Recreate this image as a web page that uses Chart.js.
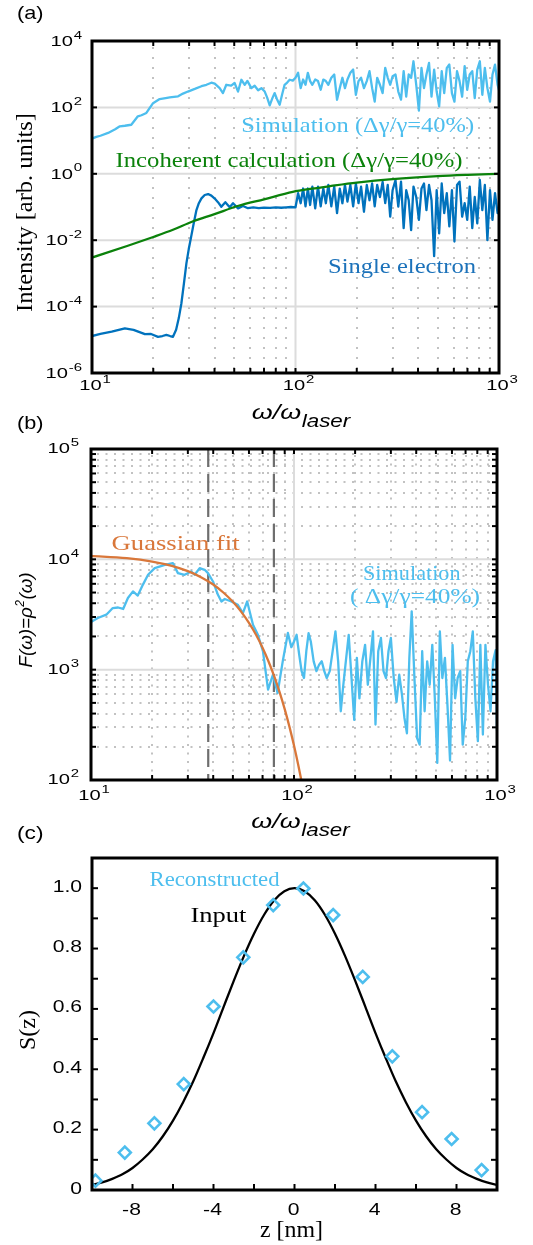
<!DOCTYPE html>
<html>
<head>
<meta charset="utf-8">
<script src="https://cdn.jsdelivr.net/npm/chart.js@4.4.1/dist/chart.umd.min.js"></script>
<style>
    body { margin: 0; background: #fff; }
    #figure { position: relative; width: 533px; height: 1245px; overflow: hidden; }
    #figure canvas { position: absolute; left: 0; }
</style>
</head>
<body>
<div id="figure">
    <canvas id="chartA" width="533" height="440" style="top:0px"></canvas>
    <canvas id="chartB" width="533" height="445" style="top:400px"></canvas>
    <canvas id="chartC" width="533" height="430" style="top:815px"></canvas>
</div>
<script>
// ---- panel (a): intensity spectra ----
const omegaSimLowA = [10, 10.5, 11, 12, 13, 13.7, 14.5, 15.6, 16.8, 17.5, 18.5, 19.95, 21.5, 23, 24.1, 26.5,
    28, 29.6, 32, 34.5, 36.5, 38.6, 40.1, 42.4, 44, 45.7, 48.3, 50.2, 52.2, 54.2, 56.3, 58, 60.7, 63, 65.5,
    68, 70.6, 72.5, 74.7, 77, 79, 81, 83.6, 86, 88.4, 91, 93.6, 97];
const intensitySimLowA = [11.5, 13, 14, 17, 22, 27, 28, 30, 54, 58, 68, 134, 178, 190, 200, 215,
    260, 300, 360, 435, 480, 555, 520, 380, 270, 480, 450, 543, 300, 680, 480, 630, 380, 450, 330,
    380, 300, 200, 115, 190, 270, 180, 120, 250, 480, 560, 680, 640];

// shared sampling of the noisy 100-1000 part
const omegaHigh = [100, 103, 106, 109, 112, 115, 118, 121, 125, 129,
    133, 137, 141, 145, 150, 155, 160, 165, 170, 175,
    180, 186, 192, 198, 204, 210, 217, 224, 231, 238,
    245, 252, 260, 268, 276, 284, 292, 300, 310, 320,
    330, 340, 350, 360, 370, 380, 392, 404, 416, 428,
    440, 453, 466, 480, 494, 508, 523, 538, 554, 570,
    587, 604, 622, 640, 659, 678, 698, 718, 739, 760,
    782, 805, 828, 852, 877, 903, 929, 956, 984, 1000];
const intensitySimHighA = [780, 1100, 380, 690, 480, 1100, 620, 480, 690, 620,
    340, 690, 620, 480, 780, 980, 170, 380, 780, 380,
    690, 1100, 1380, 240, 620, 780, 380, 620, 1230, 380,
    150, 780, 480, 270, 1550, 780, 480, 870, 980, 300,
    170, 1230, 210, 980, 780, 2450, 480, 80, 1550, 380,
    980, 2190, 210, 1380, 300, 107, 1230, 270, 1550, 1950,
    270, 150, 1230, 620, 210, 1740, 340, 980, 1230, 190,
    1380, 2450, 240, 1550, 380, 150, 980, 1950, 480, 330];

const omegaSingleLow = [10, 11, 12.5, 14.5, 16, 18.2, 19.5, 21.1, 22.2, 23.2, 24.2, 25, 25.9, 26.7, 27.5,
    28.3, 29.1, 29.9, 30.7, 31.6, 32.6, 33.5, 34.5, 35.8, 37.2, 38.6, 40.1, 41.6, 43.2, 45.2, 47.5, 49.3,
    52.2, 55.2, 58.4, 62, 66, 70, 75, 80, 85, 90, 95];
const intensitySingleLow = [1.3e-5, 1.5e-5, 1.75e-5, 2.2e-5, 2.0e-5, 1.48e-5, 1.5e-5, 1.23e-5, 1.3e-5, 1.41e-5,
    1.3e-5, 1.23e-5, 2.0e-5, 4.5e-5, 1.26e-4, 5e-4, 2.0e-3, 5.5e-3, 1.26e-2, 3.2e-2, 0.081, 0.13, 0.182,
    0.23, 0.245, 0.22, 0.18, 0.14, 0.102, 0.14, 0.098, 0.13, 0.091, 0.107, 0.092, 0.097, 0.093, 0.096,
    0.094, 0.097, 0.095, 0.098, 0.1];
const intensitySingleHigh = [0.098, 0.26, 0.13, 0.36, 0.105, 0.36, 0.115, 0.41, 0.091, 0.41,
    0.105, 0.36, 0.13, 0.46, 0.105, 0.41, 0.065, 0.36, 0.13, 0.46,
    0.145, 0.46, 0.105, 0.51, 0.13, 0.41, 0.072, 0.46, 0.16, 0.51,
    0.105, 0.46, 0.20, 0.57, 0.13, 0.46, 0.051, 0.32, 0.65, 0.102,
    0.58, 0.023, 0.32, 0.16, 0.020, 0.41, 0.20, 0.041, 0.36, 0.51,
    0.081, 0.46, 0.16, 0.0033, 0.32, 0.016, 0.51, 0.065, 0.26, 0.026,
    0.32, 0.0091, 0.46, 0.58, 0.051, 0.13, 0.041, 0.41, 0.023, 0.20,
    0.032, 0.65, 0.081, 0.46, 0.010, 0.32, 0.041, 0.26, 0.065, 0.065];

const omegaIncoherent = [10, 15, 20, 25, 31, 40, 52, 70, 97, 120, 150, 200, 300, 500, 700, 1000];
const intensityIncoherent = [0.0030, 0.0068, 0.0125, 0.0206, 0.036, 0.061, 0.107, 0.171, 0.285, 0.355,
    0.43, 0.54, 0.69, 0.85, 0.93, 1.0];

// ---- panel (b): form factor ----
const omegaSimLowB = [10, 10.8, 11.9, 12.8, 13.6, 14.4, 15.2, 16.1, 17, 18,
    19.1, 20.6, 23.1, 25.3, 26.8, 28.9, 31.2, 32.4, 34.3, 36.3,
    37.7, 39.9, 42.2, 43.9, 45.6, 49.1, 52.9, 56, 58.8, 62.8,
    66.4, 70.3, 74.5, 78.8, 83, 88, 93.3, 97];
const formSimLowB = [2700, 2940, 3150, 3620, 3660, 3550, 4460, 5120, 4700, 5870,
    7240, 8320, 8910, 9250, 7500, 7240, 7760, 7240, 8320, 8040,
    7500, 6300, 4770, 4150, 4370, 4150, 3870, 3260, 4150, 2550,
    2070, 1470, 660, 900, 615, 1190, 2150, 1600];
const formSimHighB = [1800, 2070, 1380, 970, 840, 1470, 2140, 1800, 1190, 970,
    1110, 1190, 970, 840, 970, 1470, 2220, 1190, 420, 730,
    1190, 2070, 840, 350, 1280, 550, 1190, 1680, 730, 1280,
    2220, 318, 1470, 1940, 970, 840, 1470, 1940, 840, 510,
    900, 600, 365, 265, 1280, 3380, 840, 240, 209, 1470,
    420, 1190, 730, 1680, 550, 143, 2220, 840, 1280, 480,
    150, 1680, 550, 840, 970, 209, 365, 1190, 1470, 2220,
    550, 225, 1680, 258, 1680, 730, 420, 1190, 1500, 280];

const omegaFit = [10, 15, 20, 25, 30, 35, 40, 45, 50, 55, 60, 65, 70, 75, 80, 85, 90, 95, 100, 105, 110];
const formFit = [10760, 10240, 9540, 8720, 7810, 6860, 5910, 4980, 4120, 3340, 2650, 2070, 1580, 1180,
    866, 623, 439, 303, 205, 136, 89];
const omegaCutoffs = [37.8, 79.6];

// ---- panel (c): bunch profile ----
const zInput = [-10, -9.5, -9, -8.5, -8, -7.5, -7, -6.5, -6, -5.5, -5, -4.5, -4, -3.5, -3, -2.5, -2, -1.5,
    -1, -0.5, 0, 0.5, 1, 1.5, 2, 2.5, 3, 3.5, 4, 4.5, 5, 5.5, 6, 6.5, 7, 7.5, 8, 8.5, 9, 9.5, 10];
const sInput = [0.017, 0.025, 0.037, 0.052, 0.073, 0.101, 0.135, 0.178, 0.230, 0.291, 0.360, 0.438, 0.520,
    0.607, 0.693, 0.775, 0.849, 0.912, 0.960, 0.990, 1.000, 0.990, 0.960, 0.912, 0.849, 0.775, 0.693,
    0.607, 0.520, 0.438, 0.360, 0.291, 0.230, 0.178, 0.135, 0.101, 0.073, 0.052, 0.037, 0.025, 0.017];
const zReconstructed = [-9.83, -8.38, -6.92, -5.47, -4.0, -2.53, -1.05, 0.44, 1.91, 3.37, 4.83, 6.3, 7.76, 9.24];
const sReconstructed = [0.031, 0.124, 0.221, 0.351, 0.608, 0.771, 0.944, 0.999, 0.911, 0.706, 0.443, 0.258,
    0.169, 0.066];

// ---- ticks ----
const logMajor = [10, 100, 1000];
const logMajorExp = ['1', '2', '3'];
const logMinor = [20, 30, 40, 50, 60, 70, 80, 90, 200, 300, 400, 500, 600, 700, 800, 900];
const yMajorA = [1e-6, 1e-4, 1e-2, 1, 1e2, 1e4];
const yMajorExpA = ['-6', '-4', '-2', '0', '2', '4'];
const yMajorB = [1e2, 1e3, 1e4, 1e5];
const yMajorExpB = ['2', '3', '4', '5'];
const yMinorB = [200, 300, 400, 500, 600, 700, 800, 900, 2000, 3000, 4000, 5000, 6000, 7000, 8000, 9000,
    20000, 30000, 40000, 50000, 60000, 70000, 80000, 90000];
const xTicksC = [-8, -6, -4, -2, 0, 2, 4, 6, 8];
const xLabelsC = [-8, -4, 0, 4, 8];
const yTicksC = [0.1, 0.2, 0.3, 0.4, 0.5, 0.6, 0.7, 0.8, 0.9, 1.0];
const yLabelsC = [0, 0.2, 0.4, 0.6, 0.8, 1.0];

const SANS = '"Liberation Sans", Arial, Helvetica, sans-serif';
const SERIF = '"Liberation Serif", "Times New Roman", serif';
const TICK_STRETCH = 1.3;
const LIGHT_BLUE = '#4DBEEE';
const DARK_BLUE = '#0072BD';
const GREEN = '#0B820B';
const ORANGE = '#D9773A';
const TOP_A = 0, TOP_B = 400, TOP_C = 815;

function line(ctx, x1, y1, x2, y2) {
    ctx.beginPath();
    ctx.moveTo(x1, y1);
    ctx.lineTo(x2, y2);
    ctx.stroke();
}

// draws a run of text pieces (e.g. base + superscript), either stretched to a width or by a fixed scale
function richText(ctx, parts, px, py, opt) {
    ctx.save();
    ctx.fillStyle = opt.color || '#000';
    ctx.textBaseline = 'middle';
    ctx.textAlign = 'left';
    let natural = 0;
    for (const p of parts) {
        ctx.font = p.font;
        p.w = ctx.measureText(p.text).width;
        natural += p.w + (p.gap || 0);
    }
    const sx = opt.width ? opt.width / natural : (opt.scale || 1);
    ctx.translate(px, py);
    if (opt.rot) {
        ctx.rotate(opt.rot);
    }
    ctx.scale(sx, 1);
    let pos = opt.align === 'right' ? -natural : (opt.align === 'left' ? 0 : -natural / 2);
    for (const p of parts) {
        ctx.font = p.font;
        pos += p.gap || 0;
        ctx.fillText(p.text, pos, p.dy || 0);
        pos += p.w;
    }
    ctx.restore();
}

function powLabel(ctx, exp, px, py, align) {
    richText(ctx, [
        {text: '10', font: '15.5px ' + SANS},
        {text: exp, font: '11.5px ' + SANS, dy: -6, gap: 0.6}
    ], px, py, {scale: TICK_STRETCH, align});
}

function omegaTitle(ctx, cx, cy) {
    richText(ctx, [
        {text: 'ω/ω', font: 'italic 21px ' + SANS},
        {text: 'laser', font: 'italic 17.5px ' + SANS, dy: 8.7, gap: 0.5}
    ], cx, cy, {width: 98.5});
}

function drawGrid(chart, g) {
    const {ctx, chartArea: a, scales: {x, y}} = chart;
    ctx.save();
    ctx.strokeStyle = '#c2c2c2';
    ctx.lineWidth = 2;
    ctx.setLineDash([2, g.dotGap]);
    for (const v of g.xMinor || []) {
        const px = Math.round(x.getPixelForValue(v));
        line(ctx, px, a.top + 6, px, a.bottom);
    }
    for (const v of g.yMinor || []) {
        const py = Math.round(y.getPixelForValue(v));
        line(ctx, a.left + 6, py, a.right, py);
    }
    ctx.setLineDash([]);
    ctx.strokeStyle = '#dcdcdc';
    for (const v of g.xMajor || []) {
        const px = x.getPixelForValue(v);
        line(ctx, px, a.top, px, a.bottom);
    }
    for (const v of g.yMajor || []) {
        const py = y.getPixelForValue(v);
        line(ctx, a.left, py, a.right, py);
    }
    ctx.restore();
}

function drawFrame(chart, t) {
    const {ctx, chartArea: a, scales: {x, y}} = chart;
    ctx.save();
    ctx.strokeStyle = '#000';
    ctx.lineWidth = 2;
    for (const v of t.x) {
        const px = x.getPixelForValue(v);
        line(ctx, px, a.bottom, px, a.bottom - t.len);
        if (t.top) {
            line(ctx, px, a.top, px, a.top + t.len);
        }
    }
    for (const v of t.y) {
        const py = y.getPixelForValue(v);
        line(ctx, a.left, py, a.left + t.len, py);
        line(ctx, a.right, py, a.right - t.len, py);
    }
    ctx.lineWidth = 3;
    ctx.strokeRect(a.left, a.top, a.right - a.left, a.bottom - a.top);
    ctx.restore();
}

function lineSet(xs, ys, color, width, extra) {
    return Object.assign({
        data: xs.map((v, i) => ({x: v, y: ys[i]})),
        borderColor: color,
        borderWidth: width,
        borderJoinStyle: 'round',
        pointRadius: 0,
        fill: false,
        tension: 0
    }, extra || {});
}

function baseOptions(padding, xScale, yScale) {
    return {
        responsive: false,
        animation: false,
        devicePixelRatio: 1,
        events: [],
        layout: {padding},
        plugins: {legend: {display: false}, tooltip: {enabled: false}},
        scales: {x: xScale, y: yScale}
    };
}

// ---------- (a) ----------
new Chart(document.getElementById('chartA'), {
    type: 'line',
    data: {
        datasets: [
            lineSet(omegaIncoherent, intensityIncoherent, GREEN, 2.3, {cubicInterpolationMode: 'monotone'}),
            lineSet(omegaSingleLow.concat(omegaHigh), intensitySingleLow.concat(intensitySingleHigh), DARK_BLUE, 2.3),
            lineSet(omegaSimLowA.concat(omegaHigh), intensitySimLowA.concat(intensitySimHighA), LIGHT_BLUE, 2.3)
        ]
    },
    options: baseOptions(
        {left: 92, right: 34, top: 41, bottom: 67},
        {type: 'logarithmic', min: 10, max: 1000, display: false},
        {type: 'logarithmic', min: 1e-6, max: 1e4, display: false}
    ),
    plugins: [{
        id: 'panelA',
        beforeDatasetsDraw(chart) {
            drawGrid(chart, {xMinor: logMinor, xMajor: [100], yMajor: [1e-4, 1e-2, 1, 1e2], dotGap: 8});
        },
        afterDatasetsDraw(chart) {
            drawFrame(chart, {x: logMajor.concat(logMinor), y: yMajorA, len: 5, top: true});
        },
        afterDraw(chart) {
            const {ctx, chartArea: a, scales: {x, y}} = chart;
            const Y = v => v - TOP_A;
            yMajorA.forEach((v, i) => powLabel(ctx, yMajorExpA[i], a.left - 10, y.getPixelForValue(v) + 0.5, 'right'));
            logMajor.forEach((v, i) => powLabel(ctx, logMajorExp[i], x.getPixelForValue(v) + 3, a.bottom + 12.5, 'center'));
            omegaTitle(ctx, (a.left + a.right) / 2 + 5.5, a.bottom + 40);
            richText(ctx, [{text: 'Intensity [arb. units]', font: '24px ' + SERIF}], 25.5, Y(212.5),
                {width: 199, rot: -Math.PI / 2});
            richText(ctx, [{text: '(a)', font: '19px ' + SANS}], 30.3, Y(14), {width: 26.5});
            richText(ctx, [{text: 'Simulation (Δγ/γ=40%)', font: '22px ' + SERIF}], 357.7, Y(126),
                {width: 233, color: LIGHT_BLUE});
            richText(ctx, [{text: 'Incoherent calculation (Δγ/γ=40%)', font: '22px ' + SERIF}], 289, Y(161),
                {width: 347, color: GREEN});
            richText(ctx, [{text: 'Single electron', font: '22px ' + SERIF}], 402, Y(267.7),
                {width: 148, color: '#1C72BA'});
        }
    }]
});

// ---------- (b) ----------
new Chart(document.getElementById('chartB'), {
    type: 'line',
    data: {
        datasets: [
            lineSet(omegaFit, formFit, ORANGE, 2.3, {cubicInterpolationMode: 'monotone'}),
            lineSet(omegaSimLowB.concat(omegaHigh), formSimLowB.concat(formSimHighB), LIGHT_BLUE, 2.3)
        ]
    },
    options: baseOptions(
        {left: 91, right: 36, top: 49, bottom: 65},
        {type: 'logarithmic', min: 10, max: 1000, display: false},
        {type: 'logarithmic', min: 100, max: 1e5, display: false}
    ),
    plugins: [{
        id: 'panelB',
        beforeDatasetsDraw(chart) {
            const {ctx, chartArea: a, scales: {x}} = chart;
            drawGrid(chart, {xMinor: logMinor, yMinor: yMinorB, xMajor: [100], yMajor: [1e3, 1e4], dotGap: 6.5});
            ctx.save();
            ctx.strokeStyle = '#6e6e6e';
            ctx.lineWidth = 2.2;
            ctx.setLineDash([18, 7]);
            for (const v of omegaCutoffs) {
                const px = x.getPixelForValue(v);
                line(ctx, px, a.top, px, a.bottom);
            }
            ctx.restore();
        },
        afterDatasetsDraw(chart) {
            drawFrame(chart, {x: logMajor.concat(logMinor), y: yMajorB.concat(yMinorB), len: 5, top: true});
        },
        afterDraw(chart) {
            const {ctx, chartArea: a, scales: {x, y}} = chart;
            const Y = v => v - TOP_B;
            yMajorB.forEach((v, i) => powLabel(ctx, yMajorExpB[i], a.left - 12, y.getPixelForValue(v), 'right'));
            logMajor.forEach((v, i) => powLabel(ctx, logMajorExp[i], x.getPixelForValue(v) + 3, a.bottom + 16, 'center'));
            omegaTitle(ctx, (a.left + a.right) / 2 + 6.5, a.bottom + 42);
            richText(ctx, [
                {text: 'F(ω)=ρ', font: 'italic 19px ' + SANS},
                {text: '2', font: 'italic 12px ' + SANS, dy: -6, gap: 0.5},
                {text: '(ω)', font: 'italic 19px ' + SANS, gap: 0.5}
            ], 27, Y(620), {width: 95, rot: -Math.PI / 2});
            richText(ctx, [{text: '(b)', font: '19px ' + SANS}], 30.3, Y(424), {width: 26.5});
            richText(ctx, [{text: 'Guassian fit', font: '22px ' + SERIF}], 175.6, Y(544),
                {width: 128, color: ORANGE});
            richText(ctx, [{text: 'Simulation', font: '22px ' + SERIF}], 411.8, Y(574),
                {width: 97.6, color: LIGHT_BLUE});
            richText(ctx, [{text: '( Δγ/γ=40%)', font: '22px ' + SERIF}], 415, Y(597.3),
                {width: 130, color: LIGHT_BLUE});
        }
    }]
});

// ---------- (c) ----------
new Chart(document.getElementById('chartC'), {
    type: 'line',
    data: {
        datasets: [
            lineSet(zReconstructed, sReconstructed, LIGHT_BLUE, 2.5, {
                showLine: false,
                pointStyle: 'rectRot',
                pointRadius: 6,
                pointBorderWidth: 2.6,
                pointBorderColor: LIGHT_BLUE,
                pointBackgroundColor: 'rgba(255,255,255,0)'
            }),
            lineSet(zInput, sInput, '#000', 2.3, {cubicInterpolationMode: 'monotone'})
        ]
    },
    options: baseOptions(
        {left: 92, right: 36, top: 43, bottom: 55},
        {type: 'linear', min: -10, max: 10, display: false},
        {type: 'linear', min: 0, max: 1.1, display: false}
    ),
    plugins: [{
        id: 'panelC',
        afterDatasetsDraw(chart) {
            drawFrame(chart, {x: xTicksC, y: yTicksC, len: 6, top: false});
        },
        afterDraw(chart) {
            const {ctx, chartArea: a, scales: {x, y}} = chart;
            const Y = v => v - TOP_C;
            for (const v of yLabelsC) {
                const txt = v === 0 ? '0' : v.toFixed(1);
                richText(ctx, [{text: txt, font: '16.5px ' + SANS}], a.left - 10, y.getPixelForValue(v) - 1,
                    {scale: 1.28, align: 'right'});
            }
            for (const v of xLabelsC) {
                richText(ctx, [{text: String(v), font: '16.5px ' + SANS}], x.getPixelForValue(v) - 1, a.bottom + 20.7,
                    {scale: 1.28});
            }
            richText(ctx, [{text: 'z [nm]', font: '23px ' + SERIF}], 291.5, Y(1231), {width: 63});
            richText(ctx, [{text: 'S(z)', font: '24px ' + SERIF}], 29, Y(1030), {width: 40, rot: -Math.PI / 2});
            richText(ctx, [{text: '(c)', font: '19px ' + SANS}], 30.3, Y(834), {width: 26.5});
            richText(ctx, [{text: 'Reconstructed', font: '22px ' + SERIF}], 214.5, Y(880),
                {width: 130, color: LIGHT_BLUE});
            richText(ctx, [{text: 'Input', font: '22px ' + SERIF}], 218.4, Y(916.7), {width: 56});
        }
    }]
});
</script>
</body>
</html>
